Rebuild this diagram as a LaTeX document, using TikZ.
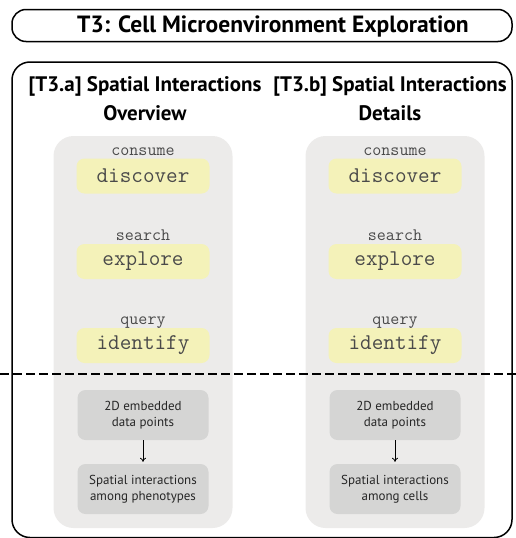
\documentclass[tikz,border=0pt]{standalone}
\usepackage{fontspec}
\setmainfont{PT Sans}
\usetikzlibrary{arrows.meta,positioning}
\definecolor{tpanel}{HTML}{ECEBEA}
\definecolor{tyellow}{HTML}{F4F2B9}
\definecolor{tstage}{HTML}{D5D5D4}
\definecolor{tmono}{HTML}{4A4A4A}
\tikzset{
  frame/.style={draw=black,line width=1.5pt},
  panel/.style={fill=tpanel,rounded corners=20pt},
  head/.style={font=\bfseries\fontsize{21}{29}\selectfont,align=center,inner sep=0pt},
  verb/.style={font=\ttfamily\fontsize{17.5}{18}\selectfont,text=tmono,inner sep=0pt,anchor=base},
  task/.style={fill=tyellow,rounded corners=8pt,minimum width=133pt,minimum height=35pt,inner sep=0pt,
    font=\ttfamily\fontsize{22.5}{23}\selectfont,text=tmono},
  stage/.style={fill=tstage,rounded corners=8pt,minimum width=131pt,minimum height=50pt,inner sep=0pt,
    align=center,font=\fontsize{13}{16.5}\selectfont,text=black!85},
  ar/.style={-{To[length=4pt,width=6pt]},line width=0.8pt},
}

\begin{document}
\begin{tikzpicture}[x=1pt,y=-1pt]
\useasboundingbox (0,0) rectangle (516,538);
% title and outer frame
\draw[frame,rounded corners=14pt] (12,9.5) rectangle (512,41.5);
\node[font=\bfseries\fontsize{23.5}{25}\selectfont,inner sep=0pt] (title) at (273,26) {T3: Cell Microenvironment Exploration};
\draw[frame,rounded corners=18pt] (12,62) rectangle (512,537.5);
% two columns
\foreach \i/\x/\hx/\title/\last in {a/143/145/{[T3.a] Spatial Interactions\\Overview}/{Spatial interactions\\among phenotypes},
                                    b/395/390/{[T3.b] Spatial Interactions\\Details}/{Spatial interactions\\among cells}} {
  \node[head] (head\i) at (\hx,99) {\title};
  \fill[panel] (\x-89.5,136) rectangle (\x+89.5,528);
  \node[task] (disc\i) at (\x,176) {discover};
  \node[task] (expl\i) at (\x,261.5) {explore};
  \node[task] (iden\i) at (\x,345.5) {identify};
  \node[verb] (cons\i) at ([yshift=3pt]disc\i.north) {consume};
  \node[verb] (srch\i) at ([yshift=3pt]expl\i.north) {search};
  \node[verb] (qury\i) at ([yshift=3pt]iden\i.north) {query};
  \node[stage] (emb\i) at (\x,415) {2D embedded\\data points};
  \node[stage] (int\i) at (\x,489) {\last};
  \draw[ar] (emb\i) -- ([yshift=2pt]int\i.north);
}
% split line
\coordinate (cutl) at (0,374);
\coordinate (cutr) at (516,374);
\draw[line width=1.8pt,dash pattern=on 8.5pt off 4.5pt] (cutl) -- (cutr);
\end{tikzpicture}
\end{document}
